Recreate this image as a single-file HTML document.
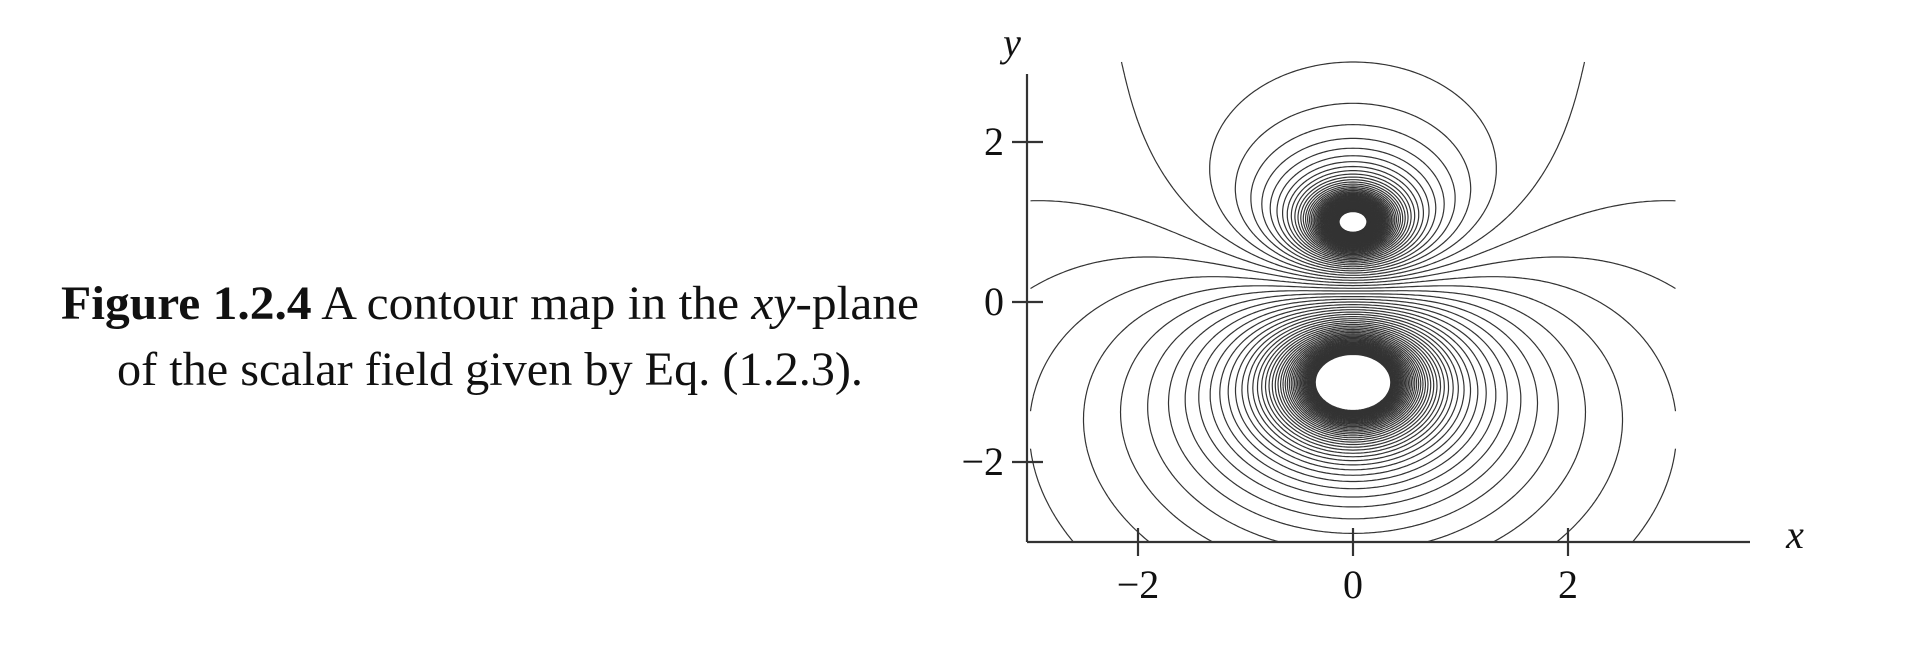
<!DOCTYPE html>
<html><head><meta charset="utf-8"><style>
body{margin:0;background:#fff;width:1912px;height:648px;overflow:hidden}
svg{position:absolute;left:0;top:0}
text{font-family:"Liberation Serif",serif;fill:#111}
</style></head><body>
<svg id="chart" width="1912" height="648">
<g>
<text x="490" y="319" font-size="48" text-anchor="middle" textLength="858" lengthAdjust="spacingAndGlyphs"><tspan font-weight="bold">Figure 1.2.4</tspan> A contour map in the <tspan font-style="italic">xy</tspan>-plane</text>
<text x="490" y="385" font-size="48" text-anchor="middle" textLength="746" lengthAdjust="spacingAndGlyphs">of the scalar field given by Eq. (1.2.3).</text>
</g>
<g id="contours"></g>
<g id="axes"></g>
</svg>
<script>
// data
const chargeValues = [-1, 2];
const chargeX = [0, 0];
const chargeY = [1, -1];
const levelMin = -6.7, levelMax = 5.2, levelStep = 0.1;
const xTicks = [-2, 0, 2];
const yTicks = [-2, 0, 2];
const xTickLabels = ["\u22122", "0", "2"];
const yTickLabels = ["\u22122", "0", "2"];

const X0 = 1353, XU = 107.5, Y0 = 302, YU = 80;
const sx = x => X0 + x * XU;
const sy = y => Y0 - y * YU;
const NS = "http://www.w3.org/2000/svg";

function field(x, y) {
  let f = 0;
  for (let i = 0; i < chargeValues.length; i++) {
    const r = Math.hypot(x - chargeX[i], y - chargeY[i]);
    f += chargeValues[i] / Math.max(r, 1e-3);
  }
  return f;
}
const levels = [];
for (let k = Math.ceil(levelMin / levelStep); k * levelStep <= levelMax + 1e-9; k++) levels.push(+(k * levelStep).toFixed(4));

const N = 240, xmin = -3, xmax = 3, ymin = -3, ymax = 3;
const dx = (xmax - xmin) / N, dy = (ymax - ymin) / N;
const F = [];
for (let j = 0; j <= N; j++) { F.push([]); for (let i = 0; i <= N; i++) F[j].push(field(xmin + i * dx, ymin + j * dy)); }

const cg = document.getElementById('contours');
levels.forEach((L) => {
  let d = "";
  for (let j = 0; j < N; j++) for (let i = 0; i < N; i++) {
    const a = F[j][i], b = F[j][i + 1], c = F[j + 1][i + 1], e = F[j + 1][i];
    const mn = Math.min(a, b, c, e), mx = Math.max(a, b, c, e);
    if (L < mn || L >= mx) continue;
    const x0 = xmin + i * dx, y0 = ymin + j * dy;
    const pts = [];
    const edge = (v1, v2, p1, p2) => {
      if ((v1 < L) !== (v2 < L)) { const t = (L - v1) / (v2 - v1); pts.push([p1[0] + t * (p2[0] - p1[0]), p1[1] + t * (p2[1] - p1[1])]); }
    };
    edge(a, b, [x0, y0], [x0 + dx, y0]);
    edge(b, c, [x0 + dx, y0], [x0 + dx, y0 + dy]);
    edge(c, e, [x0 + dx, y0 + dy], [x0, y0 + dy]);
    edge(e, a, [x0, y0 + dy], [x0, y0]);
    for (let p = 0; p + 1 < pts.length; p += 2)
      d += "M" + sx(pts[p][0]).toFixed(1) + " " + sy(pts[p][1]).toFixed(1) + "L" + sx(pts[p + 1][0]).toFixed(1) + " " + sy(pts[p + 1][1]).toFixed(1);
  }
  if (!d) return;
  const path = document.createElementNS(NS, 'path');
  path.setAttribute('d', d);
  path.setAttribute('stroke', '#333');
  path.setAttribute('stroke-width', '1.2');
  path.setAttribute('fill', 'none');
  
  
  cg.appendChild(path);
});

const ag = document.getElementById('axes');
function line(x1, y1, x2, y2, name) {
  const l = document.createElementNS(NS, 'line');
  l.setAttribute('x1', x1); l.setAttribute('y1', y1); l.setAttribute('x2', x2); l.setAttribute('y2', y2);
  l.setAttribute('stroke', '#333'); l.setAttribute('stroke-width', '2.2');
  
  
  ag.appendChild(l);
}
function txt(x, y, s, size, anchor, name, italic) {
  const t = document.createElementNS(NS, 'text');
  t.setAttribute('x', x); t.setAttribute('y', y); t.setAttribute('font-size', size);
  t.setAttribute('text-anchor', anchor);
  if (italic) t.setAttribute('font-style', 'italic');
  t.textContent = s;
  
  
  ag.appendChild(t);
}
line(1027, 74, 1027, 542, 'y-axis');
line(1027, 542, 1750, 542, 'x-axis');
xTicks.forEach((v, i) => {
  line(sx(v), 528, sx(v), 556, 'x-tick');
  txt(sx(v), 598, xTickLabels[i], 40, 'middle', 'x-tick-label');
});
yTicks.forEach((v, i) => {
  line(1012, sy(v), 1043, sy(v), 'y-tick');
  txt(1004, sy(v) + 13, yTickLabels[i], 40, 'end', 'y-tick-label');
});
txt(1795, 548, 'x', 40, 'middle', 'x-axis-title', true);
txt(1012, 56, 'y', 40, 'middle', 'y-axis-title', true);
</script>
</body></html>
